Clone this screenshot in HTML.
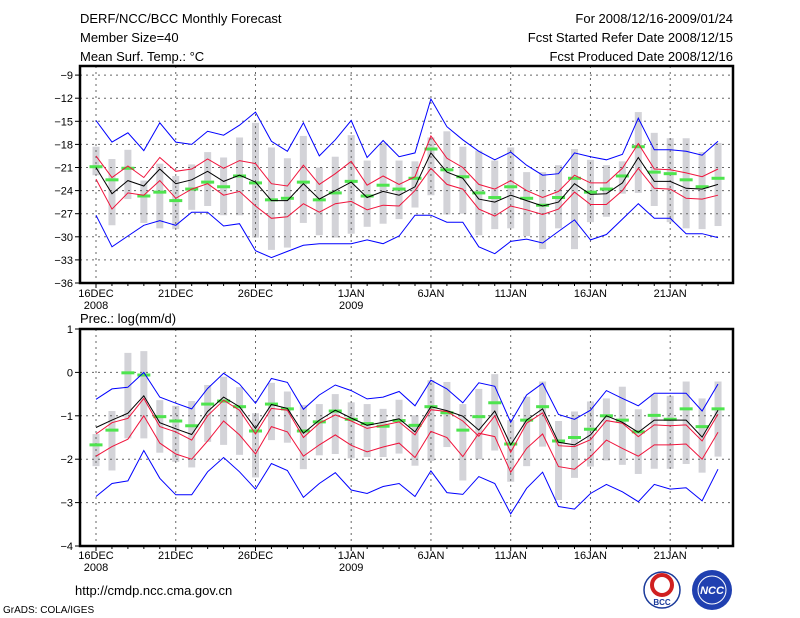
<!DOCTYPE html>
<html><head><meta charset="utf-8"><style>
body{margin:0;background:#fff;}
svg{display:block;font-family:"Liberation Sans",sans-serif;}
</style></head><body>
<svg id="c" width="800" height="618" viewBox="0 0 800 618">
<g font-size="13" fill="#000">
<text x="80" y="23">DERF/NCC/BCC Monthly Forecast</text>
<text x="80" y="42">Member Size=40</text>
<text x="80" y="61">Mean Surf. Temp.: °C</text>
<text x="733" y="23" text-anchor="end">For 2008/12/16-2009/01/24</text>
<text x="733" y="42" text-anchor="end">Fcst Started Refer Date 2008/12/15</text>
<text x="733" y="61" text-anchor="end">Fcst Produced Date 2008/12/16</text>
<text x="80" y="323">Prec.: log(mm/d)</text>
<text x="75" y="595">http://cmdp.ncc.cma.gov.cn</text>
<text x="3" y="613" font-size="10">GrADS: COLA/IGES</text>
</g>
<g>
<circle cx="662" cy="590" r="18" fill="#fff" stroke="#1a3a9a" stroke-width="1.5"/>
<circle cx="662" cy="585" r="10" fill="none" stroke="#d02020" stroke-width="4"/>
<text x="662" y="605" font-size="8" font-weight="bold" text-anchor="middle" fill="#1a3a9a">BCC</text>
</g>
<g>
<circle cx="712" cy="590" r="20" fill="#2040b0"/>
<circle cx="712" cy="590" r="14" fill="none" stroke="#fff" stroke-width="1"/>
<text x="712" y="594" font-size="11" font-weight="bold" font-style="italic" text-anchor="middle" fill="#fff">NCC</text>
</g>
<g id="top"></g>
<g id="bot"></g>
</svg>
<script>
const dateLabels=["16DEC","21DEC","26DEC","1JAN","6JAN","11JAN","16JAN","21JAN"];
const dateIdx=[0,5,10,16,21,26,31,36];
const yearLabels={0:"2008",16:"2009"};
// Temperature panel
const tTicks=[-9,-12,-15,-18,-21,-24,-27,-30,-33,-36];
const tMax=[-14.9,-17.7,-16.5,-18.8,-15.2,-17.7,-18.0,-16.3,-16.8,-15.5,-13.8,-17.6,-18.9,-15.2,-19.5,-17.4,-14.9,-19.7,-17.5,-19.6,-19.1,-12.1,-15.7,-17.4,-18.9,-20.0,-19.0,-20.7,-22.0,-21.8,-19.1,-19.6,-20.0,-19.3,-14.6,-18.7,-18.7,-18.9,-19.4,-17.6];
const tUp=[-19.5,-22.3,-20.8,-22.3,-19.7,-21.5,-21.2,-19.9,-21.1,-20.1,-20.5,-23.1,-23.4,-20.7,-23.2,-21.8,-20.2,-23.3,-22.1,-23.2,-22.2,-16.9,-19.8,-21.0,-23.2,-23.8,-22.7,-24.0,-24.9,-24.1,-22.0,-23.0,-23.0,-21.1,-17.9,-21.2,-21.3,-21.7,-22.2,-21.2];
const tMean=[-21.0,-24.4,-22.7,-23.4,-21.2,-23.1,-22.6,-21.5,-22.8,-22.0,-22.9,-25.3,-25.3,-23.1,-25.1,-24.0,-22.9,-24.9,-24.1,-24.6,-23.5,-19.1,-21.6,-22.4,-25.1,-25.5,-24.6,-25.3,-26.0,-25.5,-23.1,-24.5,-24.4,-23.0,-19.7,-22.8,-22.8,-23.7,-23.8,-23.2];
const tLow=[-22.5,-26.4,-24.3,-24.6,-22.7,-25.0,-23.8,-23.1,-24.6,-24.1,-26.0,-27.6,-27.4,-25.7,-26.8,-25.7,-25.4,-26.5,-25.9,-26.0,-24.0,-21.1,-23.2,-23.8,-26.4,-27.3,-26.0,-26.5,-27.1,-26.4,-24.2,-25.8,-25.8,-24.0,-21.1,-23.7,-23.8,-25.0,-25.1,-24.6];
const tMin=[-27.2,-31.3,-29.9,-28.5,-27.9,-28.5,-26.8,-26.8,-28.6,-28.3,-31.8,-32.7,-31.9,-31.1,-30.9,-30.9,-30.9,-30.4,-30.9,-29.9,-27.2,-27.2,-28.1,-28.1,-31.3,-32.2,-30.6,-30.3,-30.8,-29.3,-27.8,-30.4,-29.7,-27.7,-25.7,-27.6,-27.6,-29.6,-29.6,-30.1];
const tObs=[-20.9,-22.6,-21.1,-24.7,-24.2,-25.3,-23.8,-22.9,-23.5,-22.1,-23.0,-25.2,-25.0,-22.9,-25.2,-24.3,-22.8,-24.7,-23.3,-23.8,-22.4,-18.6,-21.3,-22.2,-24.3,-24.9,-23.5,-25.0,-25.9,-24.9,-22.4,-24.2,-23.8,-22.1,-18.3,-21.6,-21.8,-22.6,-23.5,-22.4];
const tBarTop=[-18.3,-19.9,-18.7,-22.7,-20.5,-22.1,-20.6,-19.0,-19.7,-17.1,-15.2,-18.4,-19.8,-16.9,-21.0,-19.6,-16.8,-20.1,-17.8,-20.1,-20.2,-17.1,-16.3,-18.3,-18.8,-20.1,-18.4,-21.6,-21.6,-20.7,-18.6,-20.0,-20.7,-20.2,-13.8,-16.5,-17.2,-17.2,-19.0,-17.8];
const tBarBot=[-22.0,-28.5,-25.1,-28.2,-28.9,-29.0,-26.5,-26.0,-27.2,-27.2,-30.1,-31.7,-31.4,-28.2,-29.8,-30.1,-29.6,-28.7,-28.3,-27.7,-26.2,-24.6,-27.1,-27.0,-29.8,-29.0,-28.9,-29.9,-31.6,-28.9,-31.6,-28.1,-27.4,-24.4,-24.3,-26.0,-28.1,-28.9,-29.0,-28.6];
// Precipitation panel
const pTicks=[1,0,-1,-2,-3,-4];
const pMax=[-0.62,-0.38,-0.34,0.0,-0.57,-0.71,-0.84,-0.37,-0.02,-0.27,-0.71,-0.14,-0.23,-0.85,-0.52,-0.29,-0.42,-0.61,-0.57,-0.44,-0.77,-0.18,-0.38,-0.70,-0.24,-0.32,-1.15,-0.52,-0.25,-0.97,-1.08,-0.87,-0.42,-0.60,-0.77,-0.48,-0.48,-0.48,-0.89,-0.27];
const pUp=[-1.42,-1.16,-1.06,-0.60,-1.25,-1.37,-1.56,-1.00,-0.64,-0.87,-1.42,-0.83,-0.87,-1.50,-1.17,-0.98,-1.12,-1.29,-1.22,-1.14,-1.44,-0.86,-0.90,-1.12,-1.47,-1.00,-1.84,-1.17,-0.93,-1.69,-1.71,-1.55,-1.11,-1.17,-1.48,-1.21,-1.23,-1.21,-1.58,-0.96];
const pMean=[-1.27,-1.10,-0.94,-0.54,-1.16,-1.30,-1.43,-0.90,-0.57,-0.79,-1.29,-0.74,-0.83,-1.40,-1.10,-0.87,-1.05,-1.22,-1.15,-1.07,-1.37,-0.79,-0.88,-1.01,-1.33,-0.89,-1.67,-1.10,-0.84,-1.61,-1.67,-1.44,-1.00,-1.15,-1.38,-1.10,-1.10,-1.10,-1.49,-0.87];
const pLow=[-1.93,-1.71,-1.54,-1.00,-1.63,-1.88,-2.00,-1.58,-1.12,-1.44,-1.88,-1.25,-1.37,-1.93,-1.67,-1.44,-1.68,-1.83,-1.72,-1.63,-1.96,-1.36,-1.50,-1.94,-1.40,-1.48,-2.30,-1.75,-1.42,-2.17,-2.23,-1.94,-1.56,-1.75,-1.93,-1.67,-1.67,-1.65,-2.00,-1.38];
const pMin=[-2.86,-2.56,-2.50,-1.80,-2.44,-2.82,-2.82,-2.29,-1.96,-2.29,-2.69,-2.10,-2.26,-2.88,-2.56,-2.31,-2.71,-2.79,-2.63,-2.56,-2.86,-2.27,-2.77,-2.81,-2.40,-2.56,-3.26,-2.67,-2.30,-3.09,-3.15,-2.79,-2.58,-2.75,-2.98,-2.58,-2.69,-2.66,-2.96,-2.23];
const pObs=[-1.67,-1.33,-0.01,-0.06,-1.02,-1.12,-1.23,-0.73,-0.66,-0.79,-1.35,-0.73,-0.84,-1.35,-1.14,-0.89,-1.08,-1.18,-1.24,-1.11,-1.22,-0.79,-0.93,-1.33,-1.02,-0.70,-1.65,-1.10,-0.79,-1.58,-1.50,-1.31,-1.00,-1.10,-1.37,-0.99,-1.08,-0.84,-1.25,-0.84];
const pBarTop=[-1.42,-0.89,0.45,0.49,-0.64,-0.77,-0.66,-0.29,-0.10,-0.34,-0.94,-0.24,-0.44,-0.75,-0.73,-0.50,-0.69,-0.73,-0.84,-0.63,-0.99,-0.18,-0.22,-0.73,-0.38,-0.04,-1.10,-0.56,-0.21,-1.12,-0.90,-0.67,-0.60,-0.33,-0.85,-0.50,-0.54,-0.21,-0.60,-0.21];
const pBarBot=[-2.16,-2.26,-1.52,-1.52,-1.85,-2.06,-2.19,-1.60,-1.67,-1.90,-2.42,-1.56,-1.62,-2.23,-1.91,-1.88,-1.98,-1.95,-1.95,-1.87,-2.15,-2.04,-1.72,-2.49,-2.00,-1.80,-2.52,-2.16,-1.71,-2.94,-2.43,-2.17,-2.03,-2.13,-2.34,-2.22,-2.22,-2.11,-2.31,-1.94];

const NS="http://www.w3.org/2000/svg";
const L=80,R=733;
const xs=i=>96+15.95*i;
function mk(tag,parent,attrs){const e=document.createElementNS(NS,tag);for(const k in attrs)e.setAttribute(k,attrs[k]);parent.appendChild(e);return e;}

function panel(g,top,bot,ys,ticks,series,obs,bTop,bBot,labelY,pfx){
  // bars
  for(let i=0;i<bTop.length;i++){
    const y1=ys(bTop[i]),y2=ys(bBot[i]);
    const r=mk('rect',g,{x:xs(i)-3.5,y:y1,width:7,height:y2-y1,fill:'#d3d3d8'});
    
    
  }
  // grid
  dateIdx.forEach(i=>{const l=mk('line',g,{x1:xs(i),x2:xs(i),y1:top,y2:bot,stroke:'#666','stroke-dasharray':'2,4'});
    
    });
  ticks.forEach(v=>{const y=ys(v);
    const l=mk('line',g,{x1:L,x2:R,y1:y,y2:y,stroke:'#666','stroke-dasharray':'2,4'});
    
    
    mk('line',g,{x1:L-5,x2:L,y1:y,y2:y,stroke:'#000'});
    const t=mk('text',g,{x:L-7,y:y+4,'text-anchor':'end','font-size':'11'});t.textContent=String(v).replace('-','\u2212');
    
    });
  // obs dashes
  obs.forEach((v,i)=>{const r=mk('rect',g,{x:xs(i)-6.5,y:ys(v)-1.5,width:13,height:3,fill:'#4ee44e'});
    
    });
  // lines
  series.forEach(([arr,col,nm])=>{
    const p=mk('polyline',g,{points:arr.map((v,i)=>xs(i).toFixed(1)+','+ys(v).toFixed(1)).join(' '),fill:'none',stroke:col,'stroke-width':1});
    
    
  });
  // frame
  const f=mk('rect',g,{x:L,y:top,width:R-L,height:bot-top,fill:'none',stroke:'#000','stroke-width':2.5});
  
  
  for(let i=0;i<40;i++){mk('line',g,{x1:xs(i),x2:xs(i),y1:bot,y2:bot+(dateIdx.includes(i)?5:3),stroke:'#000'});}
  dateIdx.forEach((i,k)=>{const t=mk('text',g,{x:xs(i),y:labelY,'text-anchor':'middle','font-size':'11'});t.textContent=dateLabels[k];
    
    
    if(yearLabels[i]){const t2=mk('text',g,{x:xs(i),y:labelY+12,'text-anchor':'middle','font-size':'11'});t2.textContent=yearLabels[i];
      
      }});
}
const yT=v=>283-(v+36)*7.7;
const yP=v=>329+(1-v)*43.4;
panel(document.getElementById('top'),66,283,yT,tTicks,
 [[tMax,'#0000ff','max-line'],[tMin,'#0000ff','min-line'],[tUp,'#f0143c','upper-line'],[tLow,'#f0143c','lower-line'],[tMean,'#000','mean-line']],
 tObs,tBarTop,tBarBot,297,'temp');
panel(document.getElementById('bot'),329,546,yP,pTicks,
 [[pMax,'#0000ff','max-line'],[pMin,'#0000ff','min-line'],[pUp,'#f0143c','upper-line'],[pLow,'#f0143c','lower-line'],[pMean,'#000','mean-line']],
 pObs,pBarTop,pBarBot,559,'precip');
</script>
</body></html>
